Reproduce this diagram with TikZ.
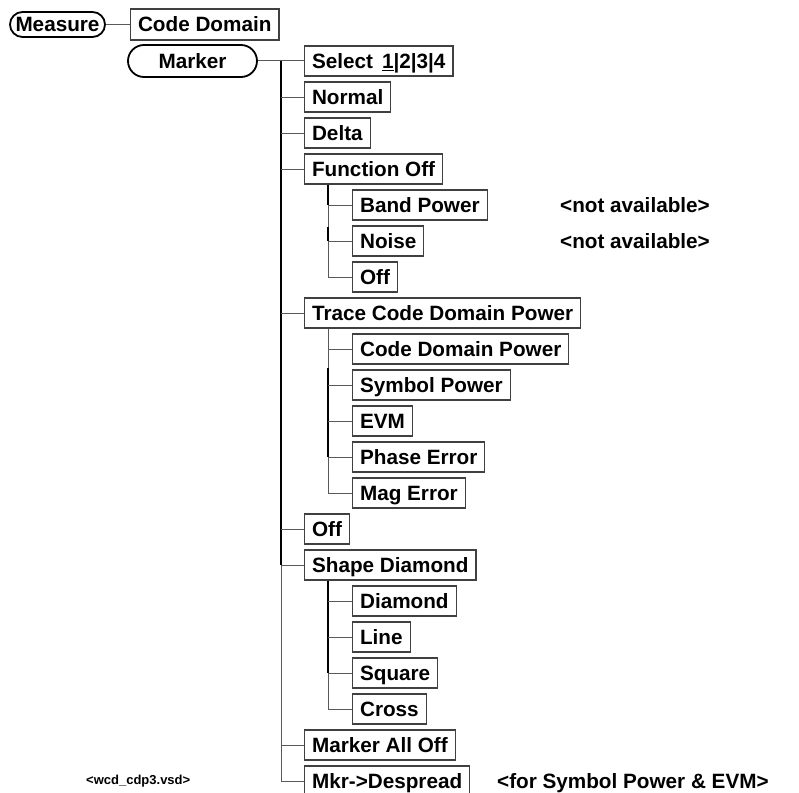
\documentclass[tikz,border=0pt]{standalone}
\usepackage{fontspec}
\setmainfont{Liberation Sans}
\usetikzlibrary{calc}
\newcommand{\fnt}{\fontsize{20.7bp}{24bp}\selectfont\bfseries}
\newcommand{\fntsmall}{\fontsize{13bp}{15bp}\selectfont\bfseries}
\newcommand{\ulone}{\underline{1}}
\begin{document}
\begin{tikzpicture}[x=1bp,y=-1bp,
  box/.style={draw=black!75,line width=1.1bp,fill=white,anchor=west,minimum height=30bp,
    inner xsep=7.5bp,inner ysep=0pt,text height=14.8bp,text depth=0pt,font=\fnt},
  pill/.style={draw=black,line width=1.8bp,fill=white,inner xsep=0pt,inner ysep=0pt,
    text height=14.8bp,text depth=0pt,font=\fnt},
  conn/.style={draw=black!65,line width=1bp},
  thk/.style={draw=black,line width=2bp},
  note/.style={anchor=west,inner sep=0pt,text height=14.8bp,text depth=0pt,font=\fnt}]
\useasboundingbox (0,0) rectangle (799,793);

% top row
\node[pill,minimum width=95bp,minimum height=25bp,rounded corners=12.5bp] (meas) at (57.5,24.5) {Measure};
\node[box,minimum height=31bp] (cd) at (130,24.5) {Code Domain};
\node[pill,minimum width=129bp,minimum height=32bp,rounded corners=16bp] (mark) at (192.5,61) {Marker};

% main column
\node[box] (sel) at (304,61) {Select\hspace{9bp}\ulone|2|3|4};
\node[box] (nor) at (304,97) {Normal};
\node[box] (del) at (304,133) {Delta};
\node[box] (fo)  at (304,169) {Function Off};
\node[box] (tr)  at (304,313) {Trace Code Domain Power};
\node[box] (off) at (304,529) {Off};
\node[box] (sd)  at (304,565) {Shape Diamond};
\node[box] (mao) at (304,745) {Marker All Off};
\node[box] (mkr) at (304,781) {Mkr->Despread};

% sub column
\node[box] (bp)  at (352,205) {Band Power};
\node[box] (ns)  at (352,241) {Noise};
\node[box] (of2) at (352,277) {Off};
\node[box] (cdp) at (352,349) {Code Domain Power};
\node[box] (sp)  at (352,385) {Symbol Power};
\node[box] (evm) at (352,421) {EVM};
\node[box] (pe)  at (352,457) {Phase Error};
\node[box] (me)  at (352,493) {Mag Error};
\node[box] (dia) at (352,601) {Diamond};
\node[box] (lin) at (352,637) {Line};
\node[box] (sq)  at (352,673) {Square};
\node[box] (cr)  at (352,709) {Cross};

% notes
\node[note] (na1) at (560,205) {<not available>};
\node[note] (na2) at (560,241) {<not available>};
\node[note] (fsp) at (497,781) {<for Symbol Power \& EVM>};
\node[note,font=\fntsmall,text height=9.3bp] (vsd) at (86,780) {<wcd\_cdp3.vsd>};

% connectors top
\draw[conn] (meas) -- (cd);
\draw[conn] (mark) -- (sel);

% main trunk
\coordinate (t0) at ([xshift=-23bp]sel.west);
\draw[thk] (t0) -- (t0 |- sd.west);
\draw[conn] (t0 |- sd.west) -- (t0 |- mkr.west);
\foreach \n in {nor,del,fo,tr,off,sd,mao,mkr}
  \draw[conn] (t0 |- \n.west) -- (\n.west);

% sub trunk 1
\coordinate (s1) at ([xshift=24bp]fo.south west);
\draw[thk] (s1) -- (s1 |- bp.west);
\draw[conn] (s1 |- bp.west) -- (s1 |- of2.west);
\draw[thk] ($(s1 |- ns.west)+(0,-14)$) -- (s1 |- ns.west);
\foreach \n in {bp,ns,of2}
  \draw[conn] (s1 |- \n.west) -- (\n.west);

% sub trunk 2
\coordinate (s2) at ([xshift=24bp]tr.south west);
\draw[conn] (s2) -- (s2 |- me.west);
\draw[thk] ($(s2 |- sp.west)+(0,-17)$) -- (s2 |- pe.west);
\foreach \n in {cdp,sp,evm,pe,me}
  \draw[conn] (s2 |- \n.west) -- (\n.west);

% sub trunk 3
\coordinate (s3) at ([xshift=24bp]sd.south west);
\draw[thk] (s3) -- (s3 |- sq.west);
\draw[conn] (s3 |- sq.west) -- (s3 |- cr.west);
\foreach \n in {dia,lin,sq,cr}
  \draw[conn] (s3 |- \n.west) -- (\n.west);
\end{tikzpicture}
\end{document}
